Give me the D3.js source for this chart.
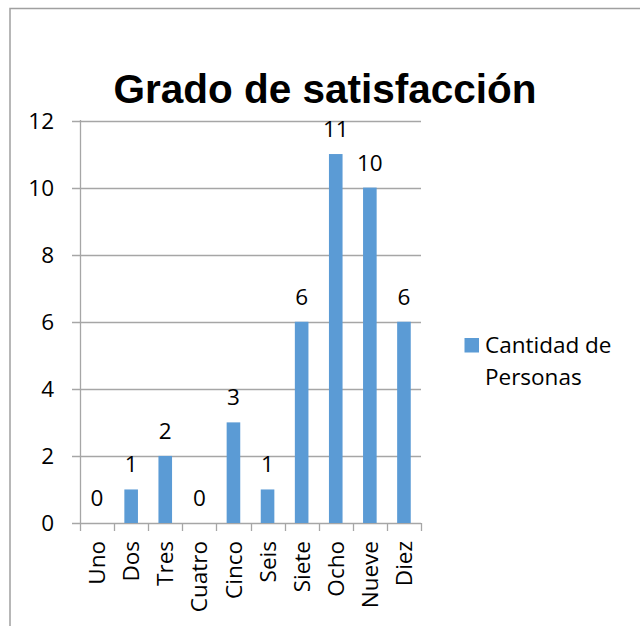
<!DOCTYPE html>
<html>
<head>
  <meta charset="utf-8">
  <title>Grado de satisfacción</title>
  <script src="https://d3js.org/d3.v7.min.js"></script>
  <style>
    body { margin: 0; background: #fff; }
    svg { display: block; font-family: "Open Sans", "Liberation Sans", sans-serif; }
  </style>
</head>
<body>
  <svg width="640" height="626"></svg>
  <script>
    // datos del gráfico
    var categorias = ["Uno", "Dos", "Tres", "Cuatro", "Cinco", "Seis", "Siete", "Ocho", "Nueve", "Diez"];
    var cantidad = [0, 1, 2, 0, 3, 1, 6, 11, 10, 6];
    var yTicks = [0, 2, 4, 6, 8, 10, 12];
    var serie = ["Cantidad de", "Personas"];

    var svg = d3.select("svg");
    var fs = "22.5px";

    // marco exterior
    svg.append("path")
      .attr("d", "M10,640 V8.5 H640")
      .attr("fill", "none")
      .attr("stroke", "#a0a0a0")
      .attr("stroke-width", 1.5);

    svg.append("text")
      .attr("x", 325)
      .attr("y", 103)
      .attr("text-anchor", "middle")
      .style("font-family", "'Liberation Sans', Arial, sans-serif")
      .style("font-weight", "bold")
      .style("font-size", "40.5px")
      .text("Grado de satisfacción");

    var xb = d3.scaleBand().domain(categorias).range([80, 421]);
    var y = d3.scaleLinear().domain([0, 12]).range([523, 120.5]);

    // líneas de cuadrícula
    svg.append("g")
      .selectAll("line")
      .data(yTicks)
      .enter()
      .append("line")
      .attr("x1", 72)
      .attr("x2", 421)
      .attr("y1", function (d) { return Math.round(y(d)) + 0.5; })
      .attr("y2", function (d) { return Math.round(y(d)) + 0.5; })
      .attr("stroke", "#a6a6a6")
      .attr("stroke-width", 1.3);

    svg.append("g")
      .selectAll("text")
      .data(yTicks)
      .enter()
      .append("text")
      .attr("x", 54)
      .attr("y", function (d) { return y(d); })
      .attr("dy", "0.36em")
      .attr("text-anchor", "end")
      .style("font-size", fs)
      .text(function (d) { return d; });

    // eje vertical
    svg.append("line")
      .attr("x1", 80.5).attr("x2", 80.5)
      .attr("y1", 120).attr("y2", 523)
      .attr("stroke", "#a6a6a6")
      .attr("stroke-width", 1.3);

    // marcas del eje horizontal
    var bordes = categorias.map(function (c) { return xb(c); }).concat([421]);
    svg.append("g")
      .selectAll("line")
      .data(bordes)
      .enter()
      .append("line")
      .attr("x1", function (d) { return Math.round(d) + 0.5; })
      .attr("x2", function (d) { return Math.round(d) + 0.5; })
      .attr("y1", 523)
      .attr("y2", 531)
      .attr("stroke", "#a6a6a6")
      .attr("stroke-width", 1.3);

    // barras
    svg.append("g")
      .selectAll("rect")
      .data(cantidad)
      .enter()
      .append("rect")
      .attr("x", function (d, i) { return xb(categorias[i]) + xb.bandwidth() / 2 - 6.8; })
      .attr("width", 13.6)
      .attr("y", function (d) { return y(d); })
      .attr("height", function (d) { return y(0) - y(d); })
      .attr("fill", "#5b9bd5");

    // etiquetas de valores
    svg.append("g")
      .selectAll("text")
      .data(cantidad)
      .enter()
      .append("text")
      .attr("x", function (d, i) { return xb(categorias[i]) + xb.bandwidth() / 2; })
      .attr("y", function (d) { return y(d) - 17; })
      .attr("text-anchor", "middle")
      .style("font-size", fs)
      .text(function (d) { return d; });

    // etiquetas de categorías
    svg.append("g")
      .selectAll("text")
      .data(categorias)
      .enter()
      .append("text")
      .attr("transform", function (d) {
        return "translate(" + (xb(d) + xb.bandwidth() / 2) + ",541) rotate(-90)";
      })
      .attr("dy", "0.36em")
      .attr("text-anchor", "end")
      .style("font-size", fs)
      .text(function (d) { return d; });

    // leyenda
    svg.append("rect")
      .attr("x", 464.5).attr("y", 338)
      .attr("width", 14.5).attr("height", 14.5)
      .attr("fill", "#5b9bd5");

    var leyenda = svg.append("text")
      .attr("x", 485)
      .attr("y", 353)
      .style("font-size", fs);
    leyenda.selectAll("tspan")
      .data(serie)
      .enter()
      .append("tspan")
      .attr("x", 485)
      .attr("dy", function (d, i) { return i === 0 ? 0 : 32; })
      .text(function (d) { return d; });
  </script>
</body>
</html>
